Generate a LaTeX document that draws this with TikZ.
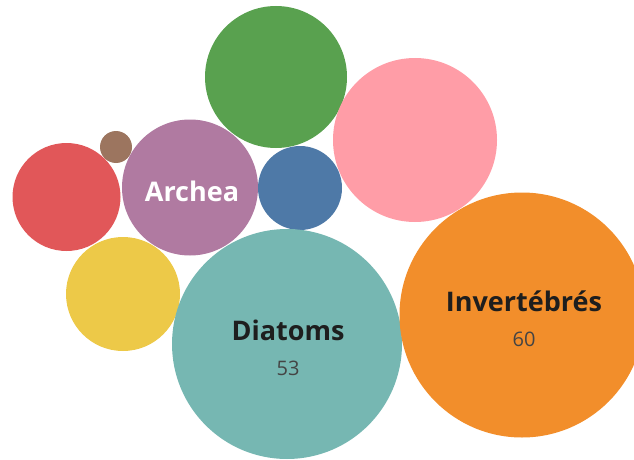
\documentclass[tikz,border=0pt]{standalone}
\usepackage{fontspec}
\setmainfont{Open Sans}
\definecolor{cred}{HTML}{E15759}
\definecolor{cbrown}{HTML}{9C755F}
\definecolor{cpurple}{HTML}{B07AA1}
\definecolor{cyellow}{HTML}{EDC948}
\definecolor{cgreen}{HTML}{59A14F}
\definecolor{cblue}{HTML}{4E79A7}
\definecolor{cpink}{HTML}{FF9DA7}
\definecolor{cteal}{HTML}{76B7B2}
\definecolor{corange}{HTML}{F28E2B}
\definecolor{ctext}{HTML}{1E1E1E}
\definecolor{cnum}{HTML}{444444}
\tikzset{
  bubble/.style={circle,inner sep=0pt,outer sep=0pt,draw=none,minimum size=#1},
  lbl/.style={anchor=base,inner sep=0pt,font=\fontsize{27}{27}\selectfont\bfseries,text=ctext},
  num/.style={anchor=base,inner sep=0pt,font=\fontsize{20}{20}\selectfont,text=cnum}
}
\begin{document}
\begin{tikzpicture}[x=1pt,y=-1pt]
\useasboundingbox (0,0) rectangle (634,460);
\clip (0,0) rectangle (634,460);
\node[bubble=142pt,fill=cgreen] (green) at (276,77) {};
\node[bubble=164pt,fill=cpink] (pink) at (415,140) {};
\node[bubble=32pt,fill=cbrown] (brown) at (116,147) {};
\node[bubble=108pt,fill=cred] (red) at (66.5,197) {};
\node[bubble=136pt,fill=cpurple] (archea) at (190,187.5) {};
\node[bubble=84pt,fill=cblue] (blue) at (300,188) {};
\node[bubble=114pt,fill=cyellow] (yellow) at (123,294) {};
\node[bubble=230pt,fill=cteal] (diatoms) at (287,344) {};
\node[bubble=245pt,fill=corange] (inv) at (522,315) {};
\node[lbl,text=white] (tarchea) at (192,201.5) {Archea};
\node[lbl] (tdiatoms) at (288,340) {Diatoms};
\node[num] (ndiatoms) at (288,375) {53};
\node[lbl] (tinv) at (524,311.5) {Invertébrés};
\node[num] (ninv) at (524,346.5) {60};
\end{tikzpicture}
\end{document}
